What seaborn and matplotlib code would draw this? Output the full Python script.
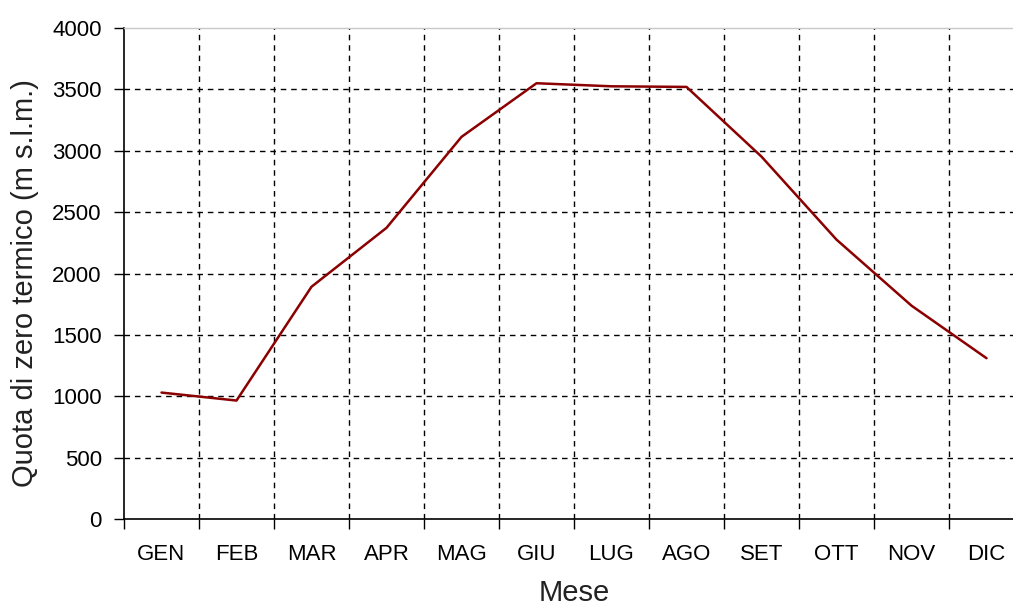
import numpy as np
import pandas as pd
import matplotlib
matplotlib.use("Agg")
import matplotlib.pyplot as plt
import seaborn as sns

# Monthly mean freezing-level height (m a.s.l.)
months = ["GEN", "FEB", "MAR", "APR", "MAG", "GIU",
          "LUG", "AGO", "SET", "OTT", "NOV", "DIC"]
quota = [1030, 965, 1892, 2372, 3113, 3550,
         3525, 3520, 2952, 2276, 1738, 1310]
y_ticks = [0, 500, 1000, 1500, 2000, 2500, 3000, 3500, 4000]

sns.set_style("white")
plt.rcParams['font.family'] = ['Liberation Sans', 'DejaVu Sans']

df = pd.DataFrame({"Mese": months, "Quota": quota})

fig = plt.figure(figsize=(10.13, 6.08), dpi=100)
# plot area runs past the right edge, like in the original screenshot
ax = fig.add_axes([124 / 1013, 89 / 608, 900 / 1013, 491 / 608])

sns.lineplot(data=df, x="Mese", y="Quota", ax=ax, color="#8b0000",
             linewidth=1.8, sort=False)

ax.set_xlim(-0.5, len(months) - 0.5)
ax.set_ylim(0, 4000)

# category boundaries as major ticks (grid), labels in the middle
ax.set_xticks(np.arange(-0.5, len(months)), labels=[])
ax.set_xticks(np.arange(len(months)), labels=months, minor=True)
ax.set_yticks(y_ticks)

ax.tick_params(axis="x", which="major", length=7, width=1, direction="out",
               color="black", bottom=True)
ax.tick_params(axis="x", which="minor", length=0, pad=18, labelsize=16,
               labelcolor="black")
ax.tick_params(axis="y", length=7, width=1, direction="out", color="black",
               left=True, pad=9, labelsize=16, labelcolor="black")

ax.grid(True, which="major", color="black", linestyle=(0, (4, 3.5)),
        linewidth=1.0)
for gl in [ax.get_ygridlines()[0], ax.get_ygridlines()[-1],
           ax.get_xgridlines()[0]]:
    gl.set_visible(False)

for side in ["left", "bottom"]:
    ax.spines[side].set_color("black")
    ax.spines[side].set_linewidth(1.2)
ax.spines["top"].set_color("#c8c8c8")
ax.spines["top"].set_linewidth(1.0)
ax.spines["right"].set_visible(False)

ax.set_xlabel("Mese", fontsize=21, labelpad=10, color="#222222")
ax.set_ylabel("Quota di zero termico (m s.l.m.)", fontsize=21,
              color="#222222")
ax.yaxis.set_label_coords(-0.094, 0.48)

fig.savefig("out.png", dpi=100)
